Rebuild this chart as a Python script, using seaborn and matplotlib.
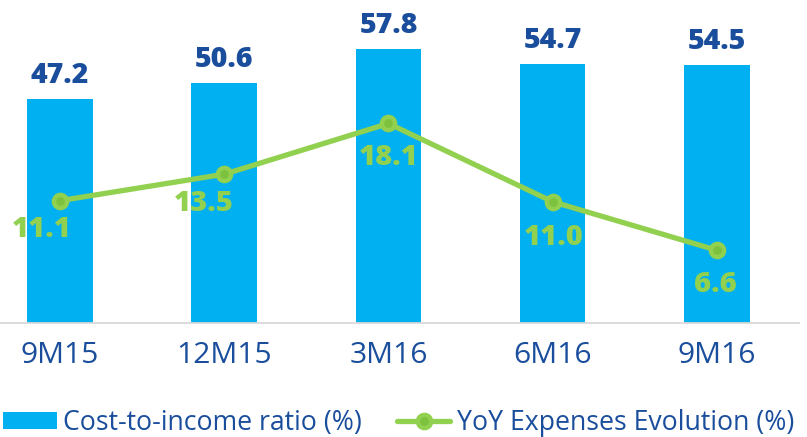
import matplotlib
matplotlib.use("Agg")
import matplotlib.pyplot as plt
import seaborn as sns
import pandas as pd
from matplotlib.patches import Patch
from matplotlib.lines import Line2D

categories = ["9M15", "12M15", "3M16", "6M16", "9M16"]
cost_to_income = [47.2, 50.6, 57.8, 54.7, 54.5]
yoy_expenses = [11.1, 13.5, 18.1, 11.0, 6.6]
bar_label = "Cost-to-income ratio (%)"
line_label = "YoY Expenses Evolution (%)"

BLUE = "#00B0F0"
DARK = "#1A4E9C"
GREEN = "#92D050"
GREEN_DOT = "#7DC23F"

sns.set_theme(style="white")
plt.rcParams["font.family"] = ["Open Sans", "DejaVu Sans"]

df = pd.DataFrame({"cat": categories, "cti": cost_to_income, "yoy": yoy_expenses})

fig = plt.figure(figsize=(8.07, 4.37), dpi=100)
ax = fig.add_axes([0.0, 0.2609, 0.990, 0.739])
sns.barplot(data=df, x="cat", y="cti", ax=ax, color=BLUE, width=0.40,
            saturation=1, edgecolor="none")
ax2 = ax.twinx()
sns.pointplot(data=df, x="cat", y="yoy", ax=ax2, color=GREEN, markers="o",
              linestyles="-", linewidth=3.8, markersize=9.5,
              markerfacecolor=GREEN_DOT, markeredgecolor=GREEN, markeredgewidth=3.2)

for a in (ax, ax2):
    a.set_xlim(-0.366, 4.5)
    for s in a.spines.values():
        s.set_visible(False)
    a.set_ylabel("")
    a.set_xlabel("")
    a.set_yticks([])
    a.grid(False)
ax.set_ylim(0, 68.1)
ax2.set_ylim(0, 29.3)
ax.spines["bottom"].set_visible(True)
ax.spines["bottom"].set_color("#D9D9D9")
ax.spines["bottom"].set_linewidth(1.3)
ax.tick_params(axis="x", length=0, pad=13, labelsize=21.6, labelcolor=DARK)
ax2.tick_params(axis="x", length=0, labelbottom=False)

for i, v in enumerate(cost_to_income):
    ax.annotate(f"{v:.1f}", (i, v), xytext=(0, 16), textcoords="offset pixels",
                ha="center", va="baseline", fontsize=20.5, fontweight=800, color=DARK)

label_offsets = [(-18, -29), (-21, -29), (0, -34), (1, -36), (-1, -34)]
for i, v in enumerate(yoy_expenses):
    dx, dy = label_offsets[i]
    ax2.annotate(f"{v:.1f}", (i, v), xytext=(dx, dy), textcoords="offset pixels",
                 ha="center", va="center", fontsize=21, fontweight=800, color=GREEN)

handles = [Patch(facecolor=BLUE, edgecolor="none"),
           Line2D([0], [0], color=GREEN, lw=3.8, marker="o", markersize=9.5,
                  markerfacecolor=GREEN_DOT, markeredgecolor=GREEN, markeredgewidth=3.2)]
fig.legend(handles, [bar_label, line_label], loc="center left",
           bbox_to_anchor=(0.004, 0.033), ncol=2, frameon=False,
           fontsize=19.2, labelcolor=DARK, handlelength=2.0, handleheight=0.6,
           handletextpad=0.26, columnspacing=1.3, borderpad=0, borderaxespad=0)

fig.savefig("out.png", dpi=100)
